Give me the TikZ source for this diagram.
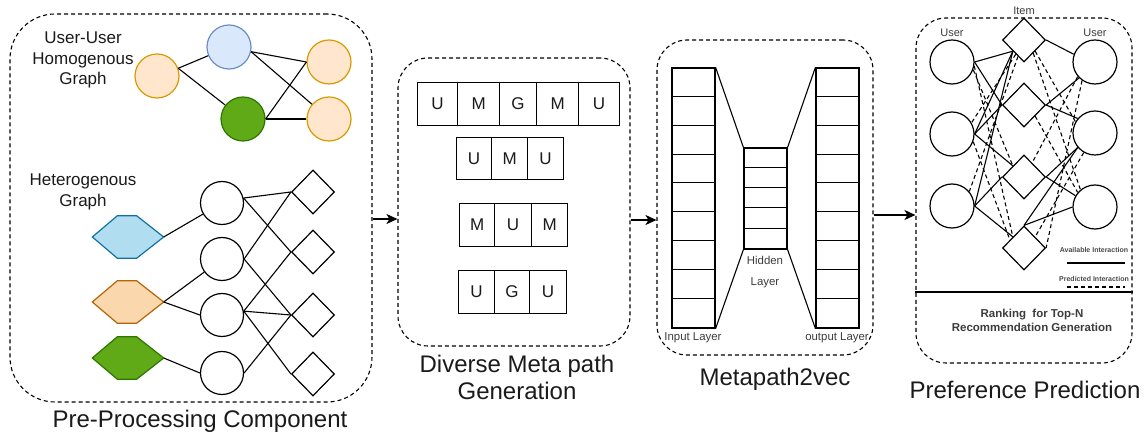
\documentclass[tikz,border=0pt]{standalone}
\usepackage{fontspec}
\setmainfont{Liberation Sans}
\usetikzlibrary{shapes.geometric,arrows.meta}
\definecolor{orFill}{HTML}{FFE6CC}
\definecolor{orLine}{HTML}{D79B00}
\definecolor{blFill}{HTML}{DAE8FC}
\definecolor{blLine}{HTML}{6C8EBF}
\definecolor{grFill}{HTML}{60A917}
\definecolor{grLine}{HTML}{2D7600}
\definecolor{hbFill}{HTML}{B1DDF0}
\definecolor{hbLine}{HTML}{10739E}
\definecolor{hoFill}{HTML}{FAD7AC}
\definecolor{hoLine}{HTML}{B46504}
\definecolor{txt}{HTML}{1A1A1A}
\tikzset{
  grp/.style={draw, dash pattern=on 4pt off 3pt, line width=1.1pt, inner sep=0pt},
  ttl/.style={font=\fontsize{24}{27}\selectfont, align=center, text=txt},
  lbl/.style={font=\fontsize{17}{20.5}\selectfont, align=center, text=txt},
  small/.style={font=\fontsize{11.4}{14}\selectfont, text=txt!85},
  ucirc/.style={circle, draw, line width=1.2pt, minimum size=44pt, inner sep=0pt},
  wcirc/.style={circle, draw, line width=1.2pt, minimum size=43pt, inner sep=0pt, fill=white},
  dia/.style={diamond, draw, line width=1.2pt, minimum width=43pt, minimum height=44pt, inner sep=0pt, fill=white},
  hexbox/.style={minimum width=71pt, minimum height=42pt, inner sep=0pt},
  cell/.style={draw, line width=1.2pt, inner sep=0pt, anchor=north west, font=\fontsize{17}{17}\selectfont, text=txt},
  col/.style={draw, line width=1.2pt, inner sep=0pt, minimum width=43pt},
  sep/.style={line width=1pt},
  link/.style={line width=1.1pt},
  plink/.style={line width=1.1pt, dash pattern=on 4pt off 3pt},
  arr/.style={line width=1.1pt, -{Stealth[length=11pt,width=10pt,inset=3pt]}}
}
\begin{document}
\begin{tikzpicture}[x=1pt,y=-1pt]
\useasboundingbox (0,0) rectangle (1144,435);

% ---------- stage frames ----------
\node[grp, rounded corners=45pt, minimum width=362pt, minimum height=388pt] (pre) at (191,208) {};
\node[grp, rounded corners=30pt, minimum width=232pt, minimum height=288pt] (mp) at (514,202) {};
\node[grp, rounded corners=30pt, minimum width=216pt, minimum height=315pt] (m2v) at (765,197.5) {};
\node[grp, rounded corners=30pt, minimum width=216pt, minimum height=345pt] (pp) at (1024,190.5) {};

\node[ttl] (preT) at (200,421) {Pre-Processing Component};
\node[ttl] (mpT) at (517,377) {Diverse Meta path\\Generation};
\node[ttl] (m2vT) at (775,379) {Metapath2vec};
\node[ttl] (ppT) at (1025,390) {Preference Prediction};

% ---------- arrows between stages ----------
\draw[arr] (pre.east |- 0,219) -- (mp.west |- 0,219);
\draw[arr] (mp.east |- 0,220) -- (m2v.west |- 0,220);
\draw[arr] (m2v.east |- 0,215) -- (pp.west |- 0,215);

% ---------- user-user homogenous graph ----------
\node[lbl] (homT) at (83,60) {User-User\\Homogenous\\Graph};
\node[ucirc, fill=orFill, draw=orLine] (hu1) at (157,76) {};
\node[ucirc, fill=blFill, draw=blLine] (hu2) at (229,47) {};
\node[ucirc, fill=grFill, draw=grLine] (hu3) at (243,119) {};
\node[ucirc, fill=orFill, draw=orLine] (hu4) at (329,62) {};
\node[ucirc, fill=orFill, draw=orLine] (hu5) at (329,119) {};
\draw[link] (hu1.20) -- (hu2);
\draw[link] (hu1.20) -- (hu3);
\draw[link] (hu2.-12) -- (hu4.west);
\draw[link] (hu2.-12) -- (hu5);
\draw[link] (hu3.east) -- (hu4.west);
\draw[link] (hu3.east) -- (hu5.west);

% ---------- heterogenous graph ----------
\node[lbl] (hetT) at (83,192) {Heterogenous\\Graph};
\node[hexbox] (hb) at (128,237) {};
\node[hexbox] (ho) at (128,302) {};
\node[hexbox] (hg) at (128,358) {};
\foreach \h/\f/\l in {hb/hbFill/hbLine, ho/hoFill/hoLine, hg/grFill/grLine}{
  \draw[line width=1.2pt, fill=\f, draw=\l]
    (\h.west) -- ([xshift=25pt]\h.north west) -- ([xshift=-27pt]\h.north east)
    -- (\h.east) -- ([xshift=-27pt]\h.south east) -- ([xshift=25pt]\h.south west) -- cycle;
}
\node[wcirc] (c1) at (222,203) {};
\node[wcirc] (c2) at (222,259) {};
\node[wcirc] (c3) at (222,315) {};
\node[wcirc] (c4) at (222,373) {};
\node[dia] (d1) at (313,192) {};
\node[dia] (d2) at (313,252) {};
\node[dia] (d3) at (313,315) {};
\node[dia] (d4) at (313,374) {};
\draw[link] (hb.east) -- (c1);
\draw[link] (ho.east) -- (c2);
\draw[link] (ho.east) -- (c3.west);
\draw[link] (hg.east) -- (c4.west);
\draw[link] (c1.13) -- (d1.west);
\draw[link] (c1.13) -- (d2.west);
\draw[link] (c2.east) -- (d1.west);
\draw[link] (c2.east) -- (d3.west);
\draw[link] (c3.10) -- (d2.west);
\draw[link] (c3.10) -- (d3.west);
\draw[link] (c3.10) -- (d4.west);
\draw[link] (c4.east) -- (d3.west);

% ---------- meta paths ----------
\foreach \x/\w/\t in {417/40/U, 457/42/M, 499/37/G, 536/42/M, 578/41/U}
  \node[cell, minimum width=\w pt, minimum height=43pt] (r1\t\x) at (\x,82) {\t};
\foreach \x/\w/\t in {456/35/U, 491/36/M, 527/36/U}
  \node[cell, minimum width=\w pt, minimum height=42pt] (r2\t\x) at (\x,137) {\t};
\foreach \x/\w/\t in {459/35/M, 494/37/U, 531/36/M}
  \node[cell, minimum width=\w pt, minimum height=43pt] (r3\t\x) at (\x,203) {\t};
\foreach \x/\w/\t in {458/36/U, 494/35/G, 529/37/U}
  \node[cell, minimum width=\w pt, minimum height=43pt] (r4\t\x) at (\x,270) {\t};

% ---------- metapath2vec network ----------
\node[col, minimum height=260pt] (inL) at (693.5,198) {};
\node[col, minimum height=260pt] (outL) at (837.5,198) {};
\node[col, minimum height=101pt] (hid) at (765.5,198.5) {};
\foreach \k in {1,...,8}{
  \draw[sep] ([yshift=-\k*28.9pt]inL.north west) -- ([yshift=-\k*28.9pt]inL.north east);
  \draw[sep] ([yshift=-\k*28.9pt]outL.north west) -- ([yshift=-\k*28.9pt]outL.north east);
}
\foreach \k in {1,...,4}
  \draw[sep] ([yshift=-\k*20.2pt]hid.north west) -- ([yshift=-\k*20.2pt]hid.north east);
\draw[link] (inL.north east) -- (hid.north west);
\draw[link] (inL.south east) -- (hid.south west);
\draw[link] (outL.north west) -- (hid.north east);
\draw[link] (outL.south west) -- (hid.south east);
\node[small, align=center, font=\fontsize{11.4}{21}\selectfont] (hidT) at (765,272.5) {Hidden\\Layer};
\node[small] (inT) at (693,338) {Input Layer};
\node[small] (outT) at (837,338) {output Layer};

% ---------- preference prediction ----------
\node[wcirc, minimum size=44pt] (lu1) at (952,62) {};
\node[wcirc, minimum size=44pt] (lu2) at (952,134) {};
\node[wcirc, minimum size=44pt] (lu3) at (952,206) {};
\node[wcirc, minimum size=44pt] (ru1) at (1095,62) {};
\node[wcirc, minimum size=44pt] (ru2) at (1095,133) {};
\node[wcirc, minimum size=44pt] (ru3) at (1095,207) {};
\node[dia] (i1) at (1024,40) {};
\node[dia] (i2) at (1024,105) {};
\node[dia] (i3) at (1024,177) {};
\node[dia] (i4) at (1024,248) {};
\node[small, font=\fontsize{11}{13}\selectfont] (uL) at (952,33) {User};
\node[small, font=\fontsize{11}{13}\selectfont] (uR) at (1095,33) {User};
\node[small, font=\fontsize{11}{13}\selectfont] (itT) at (1024,11) {Item};

% available interactions
\draw[link] (lu1.east) -- (i1.-135);
\draw[link] (lu1.east) -- (i2.west);
\draw[link] (lu2.east) -- (i1.-135);
\draw[link] (lu2.east) -- (i2.west);
\draw[link] (lu2.east) -- (i3.135);
\draw[link] (lu3.east) -- (i1.-135);
\draw[link] (lu3.east) -- (i3.west);
\draw[link] (lu3.east) -- (i4.135);
\draw[link] (i1.east) -- (ru1.160);
\draw[link] (i2.east) -- (ru1.-135);
\draw[link] (i2.east) -- (ru2.140);
\draw[link] (i3.east) -- (ru2.-140);
\draw[link] (i3.east) -- (ru3.150);
\draw[link] (i4.north) -- (ru2.-140);
\draw[link] (i4.north) -- (ru3.west);

% predicted interactions
\draw[plink] (lu1.-20) -- (i3.135);
\draw[plink] (lu1.-10) -- (i4.135);
\draw[plink] (lu2.-20) -- (i4.150);
\draw[plink] (i1.-120) -- (lu2.30);
\draw[plink] (i1.-110) -- (lu3.40);
\draw[plink] (i1.-45) -- (ru2.150);
\draw[plink] (i1.-55) -- (ru3.130);
\draw[plink] (ru1.-140) -- (i3.60);
\draw[plink] (ru1.-125) -- (i4.east);
\draw[plink] (ru2.-120) -- (i4.45);
\draw[plink] (i2.-45) -- (ru3.140);

% legend
\node[font=\bfseries\fontsize{7}{8}\selectfont, text=txt!80] (avT) at (1094,250) {Available Interaction};
\node[font=\bfseries\fontsize{7}{8}\selectfont, text=txt!80] (prT) at (1094,279) {Predicted Interaction};
\coordinate (av1) at (1067,263);
\coordinate (av2) at (1125,263);
\coordinate (pr1) at (1067,287);
\coordinate (pr2) at (1125,287);
\draw[link] (av1) -- (av2);
\draw[plink] (pr1) -- (pr2);

% ranking section
\draw[line width=1.2pt] (pp.west |- 0,292) -- (pp.east |- 0,292);
\node[font=\bfseries\fontsize{11.5}{14}\selectfont, align=center, text=txt!85] (rank) at (1032,320) {Ranking\ \ for Top-N\\Recommendation Generation};
\end{tikzpicture}
\end{document}
